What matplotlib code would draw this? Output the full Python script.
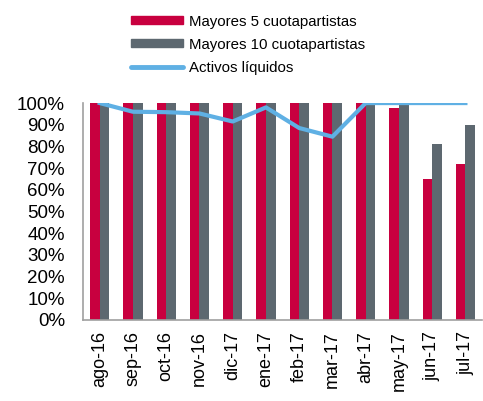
import matplotlib.pyplot as plt
import numpy as np
from matplotlib.lines import Line2D
from matplotlib.patches import Patch

plt.rcParams['font.family'] = ['Liberation Sans', 'DejaVu Sans']

meses = ['ago-16', 'sep-16', 'oct-16', 'nov-16', 'dic-17', 'ene-17',
         'feb-17', 'mar-17', 'abr-17', 'may-17', 'jun-17', 'jul-17']
mayores5 = [100, 100, 100, 100, 100, 100, 100, 100, 100, 97.5, 65, 72]
mayores10 = [100, 100, 100, 100, 100, 100, 100, 100, 100, 100, 81, 90]
activos_liquidos = [100, 96, 95.8, 95.2, 91.5, 98, 88.5, 84.5, 100, 100, 100, 100]

rojo = '#C8003F'
gris = '#5D6870'
azul = '#5FB0E4'

fig = plt.figure(figsize=(4.83, 4.01), dpi=100)
ax = fig.add_axes([0.172, 0.202, 0.826, 0.541])

x = np.arange(len(meses))
w = 0.29
ax.bar(x - w / 2, mayores5, w, color=rojo, zorder=2)
ax.bar(x + w / 2, mayores10, w, color=gris, zorder=2)
ax.plot(x, activos_liquidos, color=azul, lw=3, zorder=3)

ax.set_xlim(-0.5, len(meses) - 0.5)
ax.set_ylim(0, 100)
ax.set_yticks(np.arange(0, 101, 10))
ax.set_yticklabels([f'{v}%' for v in range(0, 101, 10)], fontsize=13.5)
ax.set_xticks(x)
ax.set_xticklabels(meses, rotation=90, fontsize=13)
ax.tick_params(axis='y', length=0, pad=13)
ax.tick_params(axis='x', length=0, pad=8)

for s in ['top', 'right']:
    ax.spines[s].set_visible(False)
for s in ['left', 'bottom']:
    ax.spines[s].set_color('#A0A0A0')
    ax.spines[s].set_linewidth(1.2)

# leyenda arriba
handles = [
    Patch(color=rojo),
    Patch(color=gris),
    Line2D([0], [0], color=azul, lw=3.5, solid_capstyle='round'),
]
etiquetas = ['Mayores 5 cuotapartistas', 'Mayores 10 cuotapartistas', 'Activos líquidos']
fig.legend(handles, etiquetas, loc='upper left', bbox_to_anchor=(0.249, 0.99),
           frameon=False, fontsize=10.8, handlelength=3.45, handleheight=0.42,
           handletextpad=0.4, labelspacing=0.6, borderaxespad=0.3)

fig.savefig('out.png', dpi=100)
